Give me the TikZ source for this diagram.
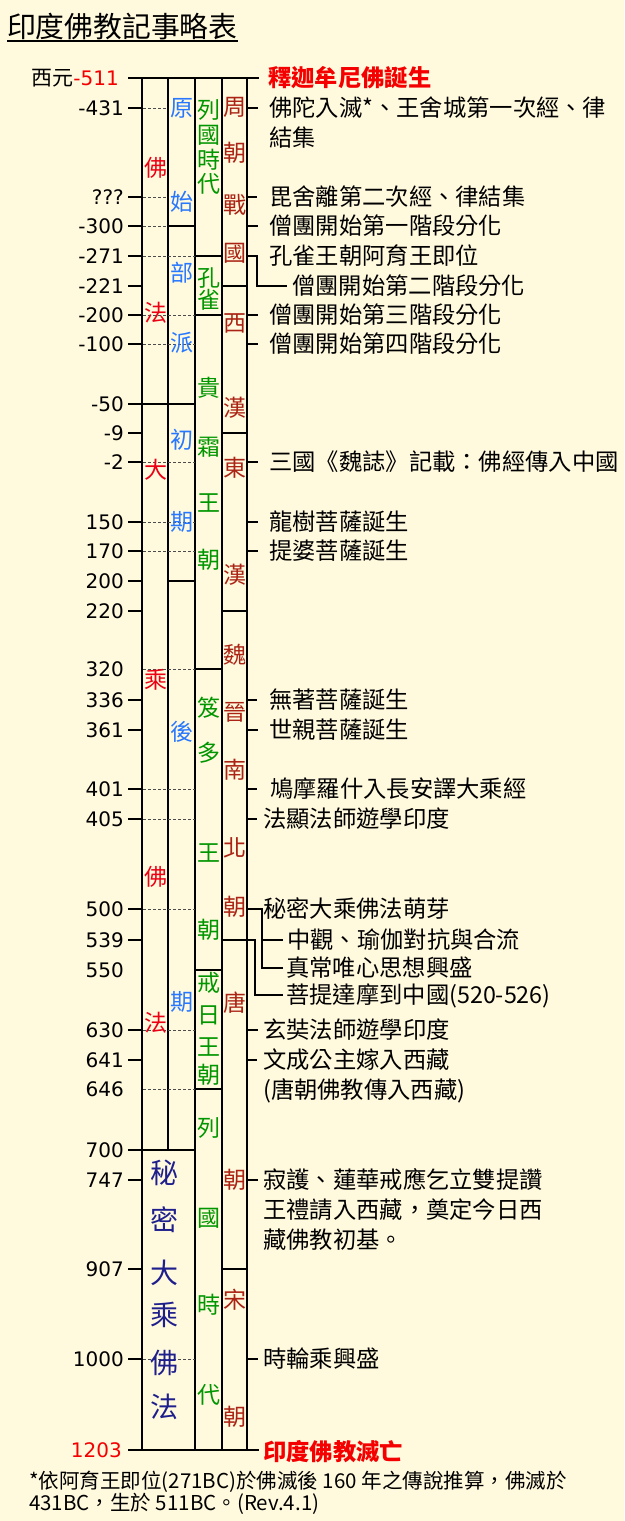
\documentclass[tikz,border=0pt]{standalone}
\usepackage{fontspec}
\setmainfont{Noto Sans CJK TC}
\newfontfamily\yrfont{DejaVu Sans}
\definecolor{bg}{RGB}{255,249,222}
\definecolor{colA}{RGB}{235,0,20}
\definecolor{colB}{RGB}{40,120,255}
\definecolor{colC}{RGB}{0,150,0}
\definecolor{colD}{RGB}{170,35,20}
\definecolor{navyc}{RGB}{30,30,140}
\definecolor{evred}{RGB}{245,0,0}
\begin{document}
\begin{tikzpicture}[x=1pt,y=-1pt,
  frame/.style={line width=2.2pt},
  tk/.style={line width=2.4pt},
  tkthin/.style={line width=1.2pt},
  conn/.style={line width=2pt},
  dashln/.style={line width=0.9pt,dash pattern=on 3pt off 2pt,black!70},
  yrlab/.style={anchor=east,inner sep=0pt,font=\yrfont\fontsize{20}{20}\selectfont},
  evt/.style={anchor=west,inner sep=0pt,font=\fontsize{23.3}{25}\selectfont,text height=19.3pt,text depth=1.6pt},
  evbold/.style={evt,font=\bfseries\fontsize{23.3}{25}\selectfont,text=evred},
  clab/.style={inner sep=0pt,font=\fontsize{23}{24}\selectfont,text height=19pt,text depth=1.6pt},
  nlab/.style={inner sep=0pt,font=\fontsize{28}{29}\selectfont,text height=23.2pt,text depth=1.9pt,text=navyc},
  foot/.style={anchor=west,inner sep=0pt,font=\fontsize{20.5}{22}\selectfont,text height=17pt,text depth=1.4pt}
]
\useasboundingbox[fill=bg] (0,0) rectangle (624,1521);

% title
\node[anchor=west,inner sep=0pt,font=\fontsize{28.8}{30}\selectfont,text height=23.9pt,text depth=2pt] (title) at (7,27) {印度佛教記事略表};
\draw[line width=2pt] (title.south west |- 0,41) -- (title.south east |- 0,41);

% vertical frame lines
\draw[frame] (142,77) -- (142,1451);
\draw[frame] (168,77) -- (168,789);
\draw[line width=1.3pt] (168,789) -- (168,1150);
\draw[frame] (195,77) -- (195,1451);
\draw[frame] (222,77) -- (222,789);
\draw[line width=1.4pt] (222,789) -- (222,1451);
\draw[frame] (247,77) -- (247,1451);
% top and bottom
\draw[frame] (128,78) -- (259,78);
\draw[frame] (128,1450) -- (259,1450);

% partitions columns A/B
\draw[frame] (168,226) -- (195,226);
\draw[frame] (128,404) -- (195,404);
\draw[frame] (168,581) -- (195,581);
\draw[frame] (128,1150) -- (195,1150);
% column C boxes
\foreach \y in {256,315,669,970,1089} \draw[frame] (195,\y) -- (222,\y);
% column D boxes
\foreach \y in {286,433,611,940,1269} \draw[frame] (222,\y) -- (247,\y);

% left ticks
\foreach \y in {108,197,226,256,286,315,344,433,462,522,551,611,700,730,819,909,940,1030,1180,1269,1359}
  \draw[tk] (128,\y) -- (142,\y);
\foreach \y in {581,789,1060}
  \draw[tkthin] (128,\y) -- (142,\y);

% dashed guide lines
\foreach \y in {108,197,226}
  \draw[dashln] (143,\y) -- (168,\y);
\foreach \y in {256,315,344,462,522,551,669,789,819,909,1030,1089,1359}
  \draw[dashln] (143,\y) -- (195,\y);

% right ticks
\foreach \y in {108,226,315,344,462,522,551,730,1030,1180,1359}
  \draw[tk] (247,\y) -- (258,\y);
\foreach \y in {197,700,789,819,1060}
  \draw[tkthin] (247,\y) -- (257,\y);

% year labels
\node[yrlab] (y0) at (119,78) {{\rmfamily\fontsize{21}{21}\selectfont 西元}\textcolor{evred}{-511}};
\foreach \t/\y [count=\i] in {-431/108,???/197,-300/226,-271/256,-221/286,-200/315,-100/344,-50/404,-9/433,-2/462,150/522,170/551,200/581,220/611,320/669,336/700,361/730,401/789,405/819,500/909,539/940,550/970,630/1030,641/1060,646/1089,700/1150,747/1180,907/1269,1000/1359}
  \node[yrlab] (y\i) at (124,\y) {\t};
\node[yrlab,text=evred] (yend) at (122,1450) {1203};

% column A (red)
\foreach \c/\y [count=\i] in {佛/168,法/313,大/470,乘/680,佛/877,法/1023}
  \node[clab,text=colA] (ca\i) at (155.5,\y) {\c};
% column B (blue)
\foreach \c/\y [count=\i] in {原/108,始/202,部/273,派/343,初/440,期/522,後/732,期/1002}
  \node[clab,text=colB] (cb\i) at (181.5,\y) {\c};
% column C (green)
\foreach \c/\y [count=\i] in {列/110,國/135,時/160,代/184,孔/278,雀/300,貴/388,霜/447,王/503,朝/560,笈/708,多/753,王/853,朝/930,戒/983,日/1015,王/1047,朝/1075,列/1128,國/1218,時/1305,代/1395}
  \node[clab,text=colC] (cc\i) at (208.5,\y) {\c};
% column D (brown)
\foreach \c/\y [count=\i] in {周/107,朝/153,戰/205,國/253,西/323,漢/408,東/468,漢/575,魏/655,晉/712,南/770,北/848,朝/907,唐/1003,朝/1180,宋/1300,朝/1417}
  \node[clab,text=colD] (cd\i) at (234.5,\y) {\c};
% merged A+B (navy)
\foreach \c/\y [count=\i] in {秘/1173,密/1220,大/1273,乘/1315,佛/1363,法/1407}
  \node[nlab] (cn\i) at (164.5,\y) {\c};

% events
\node[evbold] (e0) at (268,78) {釋迦牟尼佛誕生};
\node[evt] (e1) at (269,108) {佛陀入滅*、王舍城第一次經、律};
\node[evt] (e1b) at (269,138) {結集};
\node[evt] (e2) at (269,197) {毘舍離第二次經、律結集};
\node[evt] (e3) at (269,226) {僧團開始第一階段分化};
\node[evt] (e4) at (269,256) {孔雀王朝阿育王即位};
\node[evt] (e5) at (292,286) {僧團開始第二階段分化};
\node[evt] (e6) at (269,315) {僧團開始第三階段分化};
\node[evt] (e7) at (269,344) {僧團開始第四階段分化};
\node[evt] (e8) at (269,462) {三國《魏誌》記載：佛經傳入中國};
\node[evt] (e9) at (269,522) {龍樹菩薩誕生};
\node[evt] (e10) at (269,551) {提婆菩薩誕生};
\node[evt] (e11) at (269,700) {無著菩薩誕生};
\node[evt] (e12) at (269,730) {世親菩薩誕生};
\node[evt] (e13) at (270,789) {鳩摩羅什入長安譯大乘經};
\node[evt] (e14) at (263,819) {法顯法師遊學印度};
\node[evt] (e15) at (263,909) {秘密大乘佛法萌芽};
\node[evt] (e16) at (287,940) {中觀、瑜伽對抗與合流};
\node[evt] (e17) at (286,968) {真常唯心思想興盛};
\node[evt] (e18) at (286,995) {菩提達摩到中國(520-526)};
\node[evt] (e19) at (263,1030) {玄奘法師遊學印度};
\node[evt] (e20) at (263,1060) {文成公主嫁入西藏};
\node[evt] (e20b) at (263,1090) {(唐朝佛教傳入西藏)};
\node[evt] (e21) at (263,1180) {寂護、蓮華戒應乞立雙提讚};
\node[evt] (e21b) at (263,1210) {王禮請入西藏，奠定今日西};
\node[evt] (e21c) at (263,1240) {藏佛教初基。};
\node[evt] (e22) at (263,1359) {時輪乘興盛};
\node[evbold] (e23) at (263,1452) {印度佛教滅亡};

% connectors
\draw[conn] (247,256) -- (257,256) -- (257,286) -- ([xshift=-5pt]e5.west);
\draw[conn] (247,909) -- (262,909) -- (262,968) -- ([xshift=-3pt]e17.west);
\draw[conn] (262,940) -- ([xshift=-4pt]e16.west);
\draw[conn] (247,940) -- (255,940) -- (255,995) -- ([xshift=-3pt]e18.west);

% footnote
\node[foot] (fn1) at (29,1481) {*依阿育王即位(271BC)於佛滅後 160 年之傳說推算，佛滅於};
\node[foot] (fn2) at (29,1503) {431BC，生於 511BC。(Rev.4.1)};
\end{tikzpicture}
\end{document}
